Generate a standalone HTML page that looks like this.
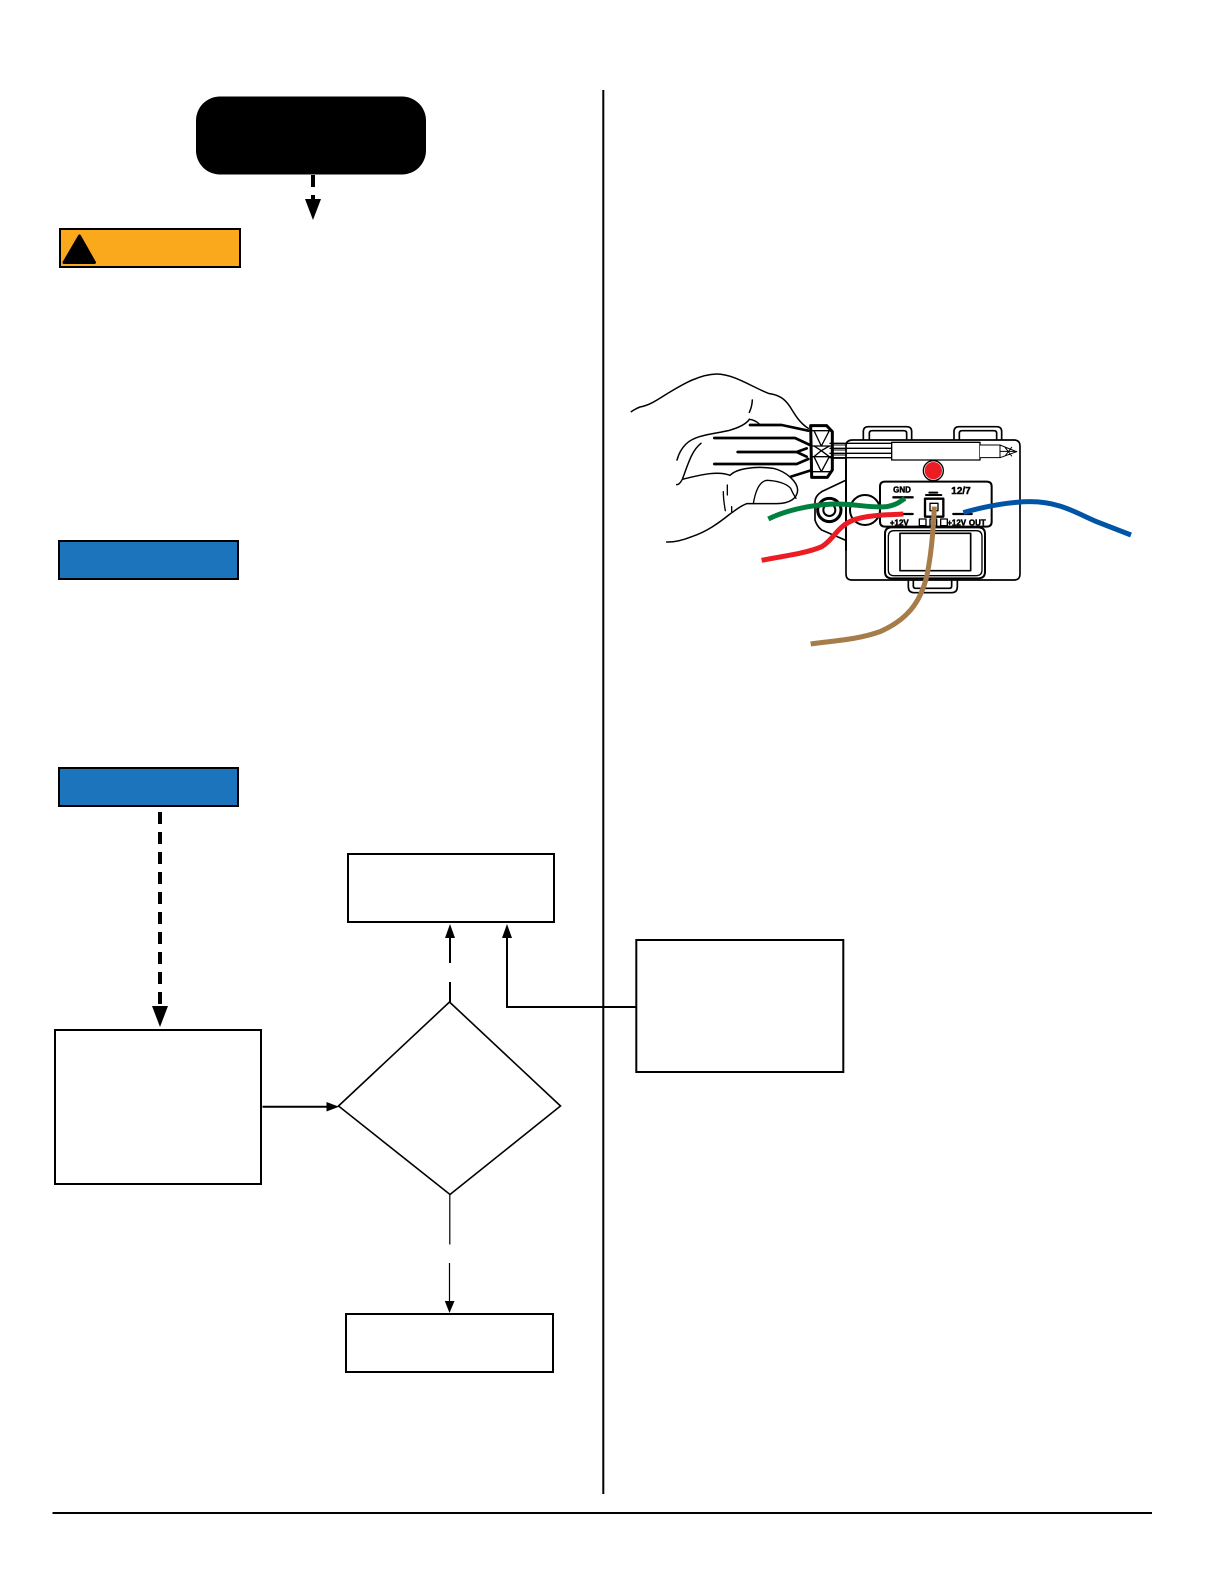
<!DOCTYPE html>
<html lang="en">
<head>
<meta charset="utf-8">
<title>Diagram</title>
<style>
html,body{margin:0;padding:0;background:#fff;width:1224px;height:1584px;overflow:hidden}
svg{display:block}
</style>
</head>
<body>
<svg xmlns="http://www.w3.org/2000/svg" width="1224" height="1584" viewBox="0 0 1224 1584">
<rect width="1224" height="1584" fill="#fff"/>

<!-- Start terminal -->
<rect x="196" y="96.5" width="230" height="78" rx="24" fill="#000"/>
<path d="M313 175V187M313 195V201" stroke="#000" stroke-width="4" fill="none"/>
<path d="M305 199H321L313 220Z" fill="#000"/>

<!-- Warning bar -->
<rect x="60" y="229" width="180" height="38" fill="#FBA91C" stroke="#000" stroke-width="2"/>
<path d="M79.500 236L94.500 262.500H64Z" fill="#000" stroke="#000" stroke-width="3" stroke-linejoin="round"/>

<!-- Blue bars -->
<rect x="59" y="541" width="179" height="38" fill="#1C75BC" stroke="#000" stroke-width="2"/>
<rect x="59" y="768" width="179" height="38" fill="#1C75BC" stroke="#000" stroke-width="2"/>

<!-- Dashed arrow to left box -->
<path d="M160 812V1008" stroke="#000" stroke-width="4" stroke-dasharray="12 8" fill="none"/>
<path d="M152 1006H168L160 1027Z" fill="#000"/>

<!-- Boxes -->
<rect x="55" y="1030" width="206" height="154" fill="#fff" stroke="#000" stroke-width="2"/>
<rect x="348" y="854" width="206" height="68" fill="#fff" stroke="#000" stroke-width="2"/>
<rect x="636.300" y="940" width="207" height="132" fill="#fff" stroke="#000" stroke-width="2"/>
<rect x="346" y="1314" width="207" height="58" fill="#fff" stroke="#000" stroke-width="2"/>

<!-- Decision -->
<path d="M449.500 1002L560.500 1106L450 1194.500L338.500 1106Z" fill="#fff" stroke="#000" stroke-width="1.600"/>

<!-- Connectors -->
<path d="M262.500 1106.700H328" stroke="#000" stroke-width="2" fill="none"/>
<path d="M326.500 1102L339 1106.700L326.500 1111.500Z" fill="#000"/>
<path d="M450 1002V982M450 963V935" stroke="#000" stroke-width="2" fill="none"/>
<path d="M445 938H455L450 924Z" fill="#000"/>
<path d="M636 1007H507V935" stroke="#000" stroke-width="2" fill="none"/>
<path d="M502 938H512L507 924Z" fill="#000"/>
<path d="M449.800 1195V1244.500M449.500 1263V1303" stroke="#000" stroke-width="1.200" fill="none"/>
<path d="M444.800 1301H454.500L449.500 1313Z" fill="#000"/>

<!-- Divider and footer -->
<path d="M603.300 90V1494" stroke="#000" stroke-width="2" fill="none"/>
<path d="M52.500 1513H1152" stroke="#000" stroke-width="2" fill="none"/>

<!-- Device body -->
<g transform="translate(830 410) scale(.33333)" fill="none" stroke="#000" stroke-linejoin="round" stroke-linecap="round">
  <path d="M100 88V65Q100 50 115 50H230Q245 50 245 65V88" stroke-width="5" fill="#fff"/>
  <path d="M118 88V70Q118 62 126 62H222Q230 62 230 70V88" stroke-width="5"/>
  <path d="M372 88V65Q372 50 387 50H500Q515 50 515 65V88" stroke-width="5" fill="#fff"/>
  <path d="M388 88V70Q388 62 396 62H492Q500 62 500 70V88" stroke-width="5"/>
  <path d="M235 510V530Q235 548 252 548H365Q382 548 382 530V510" stroke-width="5" fill="#fff"/>
  <path d="M250 510V528Q250 535 258 535H358Q365 535 365 528V510" stroke-width="5"/>
  <path d="M68 90H552Q570 90 570 108V492Q570 510 552 510H66Q48 510 48 492V108Q48 90 68 90Z" stroke-width="5" fill="#fff"/>
  <path d="M165 215H470Q485 215 485 230V335Q485 350 470 350H165Q150 350 150 335V230Q150 215 165 215Z" stroke-width="6"/>
  <path d="M185 352H445Q465 352 465 372V485Q465 505 445 505H185Q165 505 165 485V372Q165 352 185 352Z" stroke-width="6" fill="#fff"/>
  <path d="M192 362H438Q456 362 456 380V480Q456 497 438 497H192Q175 497 175 480V380Q175 362 192 362Z" stroke-width="4"/>
  <rect x="210" y="370" width="212" height="112" stroke-width="5"/>
  <circle cx="310" cy="182" r="30" stroke-width="4" fill="#fff"/>
  <circle cx="310" cy="182" r="26" fill="#ED1C24" stroke="none"/>
  <path d="M190 262H248M220 312H248M370 312H425" stroke-width="7"/>
  <rect x="285" y="266" width="55" height="54" stroke-width="7"/>
  <rect x="300" y="280" width="24" height="22" stroke-width="4"/>
  <path d="M298 248H322M288 255H334" stroke-width="6"/>
  <rect x="268" y="327" width="20" height="20" stroke-width="4"/>
  <rect x="300" y="327" width="20" height="20" stroke-width="4"/>
  <rect x="332" y="327" width="20" height="20" stroke-width="4"/>
  <path d="M0 100H185M0 115H185M0 130H185M0 143H185" stroke-width="4"/>
  <rect x="185" y="97" width="265" height="53" stroke-width="4" fill="#fff"/>
  <path d="M450 105H510L560 125L510 143H450M510 105V143M510 124H560M525 112L545 138M525 138L545 112" stroke-width="3" fill="#fff"/>
  <g font-family="Liberation Sans, sans-serif" font-weight="700" fill="#000" stroke="#000" stroke-width="1.500" text-anchor="middle">
    <text x="216" y="248" font-size="24">GND</text>
    <text x="393" y="252" font-size="30">12/7</text>
    <text x="208" y="346" font-size="24">+12V</text>
    <text x="380" y="346" font-size="24">+12V</text>
    <text x="442" y="346" font-size="24">OUT</text>
  </g>
</g>

<!-- Hand and screwdriver handle -->
<g transform="translate(620 360) scale(.33333)" fill="none" stroke="#000" stroke-linejoin="round" stroke-linecap="round">
  <path d="M678 297V570" stroke-width="6"/>
  <path d="M675 362L605 395Q585 408 585 425V480Q590 498 605 510L675 540" stroke-width="5" fill="#fff"/>
  <circle cx="628" cy="450" r="35" stroke-width="9"/>
  <circle cx="628" cy="450" r="18" stroke-width="6"/>
  <circle cx="735" cy="450" r="45" stroke-width="6"/>
  <path d="M34 155Q45 147 60 141C95 135 125 110 155 93C190 72 240 43 290 42C340 42 395 80 445 100C480 105 495 118 510 140C525 165 540 190 565 205" stroke-width="4.500"/>
  <path d="M397 120Q396 140 388 157M388 178Q375 198 325 212C280 222 225 225 198 252C182 268 175 285 171 300M243 250C215 272 205 310 187 358M170 374Q178 375 187 358C230 348 290 330 330 346C350 325 405 318 460 325C500 335 532 365 533 390C532 415 510 430 470 431H380C360 438 345 452 330 462C295 490 260 515 215 530C190 540 165 547 140 546" stroke-width="4.500"/>
  <path d="M400 431C405 400 415 365 440 361C470 362 500 370 512 385Q518 400 528 415M322 375V405M310 395Q310 420 316 452M335 440V455M388 178Q405 180 418 192" stroke-width="4"/>
  <path d="M390 195H485L565 212M283 234H525L570 255M353 276H530L560 265M530 276L560 290M283 312H530L565 297M513 350L570 332" stroke-width="8"/>
  <path d="M572 197H620L637 215V330L622 352H575Z" stroke-width="9" fill="none"/>
  <path d="M575 212H635M575 258H635M575 290H635M575 335H635M582 212L604 258L628 212M582 258L604 272L582 290M628 258L604 272L628 290M582 290L604 335L628 290" stroke-width="4"/>
  <path d="M637 255H680M637 270H680M637 285H680M637 295H680" stroke-width="3"/>
</g>

<!-- Wires -->
<g transform="translate(750 490) scale(.33333)" fill="none" stroke-width="15">
  <path d="M55 87C100 65 170 45 250 42C310 40 360 55 410 50C440 45 450 35 465 25" stroke="#00803F"/>
  <path d="M35 211C90 200 170 190 215 170C250 150 260 110 310 90C350 75 410 75 460 72" stroke="#ED1C24"/>
  <path d="M640 68C700 50 780 35 840 35C930 35 980 70 1040 95L1143 135" stroke="#0054A6"/>
  <path d="M553 50C550 120 545 190 530 260C510 340 470 390 390 425C320 450 250 452 182 462" stroke="#A67C4A"/>
</g>
</svg>
</body>
</html>
